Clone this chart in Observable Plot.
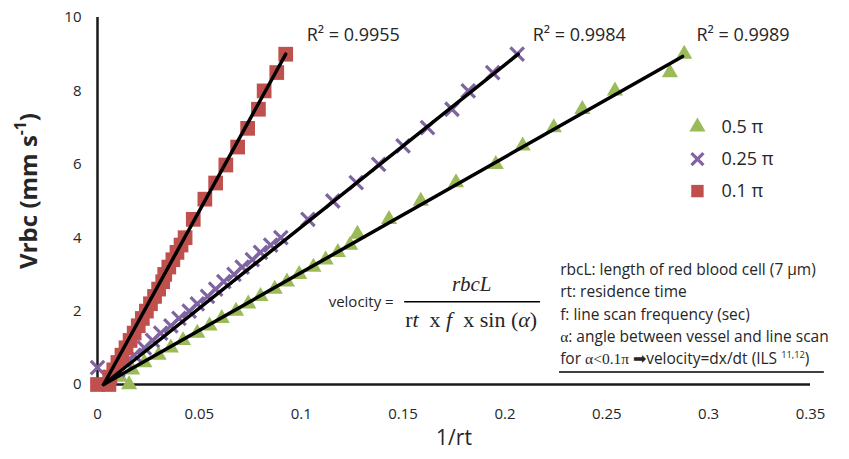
<!DOCTYPE html>
<html><head><meta charset="utf-8">
<script src="https://cdn.jsdelivr.net/npm/d3@7"></script>
<script src="https://cdn.jsdelivr.net/npm/@observablehq/plot@0.6"></script>
<style>body{margin:0;background:#fff} svg{display:block}</style>
</head><body><div id="chart"></div>
<script>
// ---- data ----
const seriesNames = ["0.5 π", "0.25 π", "0.1 π"];
const seriesColors = ["#9BBB59", "#8064A2", "#C0504D"];
const seriesSymbols = ["triangle", "times", "square"];
const r2Labels = ["R² = 0.9989", "R² = 0.9984", "R² = 0.9955"];

// 0.5 pi (green triangles)
const greenX = [0.0155,0.011,0.017,0.023,0.030,0.036,0.042,0.049,0.055,0.061,0.068,0.074,0.080,0.087,0.093,0.099,0.106,0.112,0.118,0.124,0.1276,0.1431,0.1587,0.176,0.1955,0.2087,0.224,0.238,0.254,0.281,0.288];
const greenY = [0.0,0.2,0.4,0.6,0.8,1.0,1.2,1.4,1.6,1.8,2.0,2.2,2.4,2.6,2.8,3.0,3.2,3.4,3.6,3.8,4.1,4.5,5.0,5.5,6.0,6.5,7.0,7.5,8.0,8.5,9.0];
// 0.25 pi (purple crosses)
const purpleX = [0.0,0.006,0.010,0.014,0.018,0.023,0.027,0.031,0.036,0.040,0.045,0.049,0.054,0.058,0.062,0.067,0.071,0.076,0.080,0.085,0.090,0.1033,0.1155,0.127,0.138,0.150,0.162,0.174,0.182,0.194,0.206];
const purpleY = [0.46,0.2,0.4,0.6,0.8,1.0,1.2,1.4,1.6,1.8,2.0,2.2,2.4,2.6,2.8,3.0,3.2,3.4,3.6,3.8,4.0,4.5,5.0,5.5,6.0,6.5,7.0,7.5,8.0,8.5,9.0];
// 0.1 pi (red squares)
const redX = [0.0,0.0056,0.006,0.008,0.010,0.012,0.014,0.016,0.018,0.020,0.022,0.024,0.026,0.028,0.030,0.032,0.033,0.035,0.037,0.039,0.041,0.043,0.047,0.0527,0.058,0.063,0.0688,0.0737,0.079,0.0818,0.088,0.0924];
const redY = [0.0,0.0,0.2,0.4,0.6,0.8,1.0,1.2,1.4,1.6,1.8,2.0,2.2,2.4,2.6,2.8,3.0,3.2,3.4,3.6,3.8,4.0,4.5,5.05,5.49,5.98,6.47,6.98,7.5,8.0,8.5,9.0];

// linear trendlines (start / end points)
const trendX1 = [0.003, 0.003, 0.003];
const trendY1 = [0, 0, 0];
const trendX2 = [0.2872, 0.2065, 0.0924];
const trendY2 = [8.94, 9.0, 9.0];

const xTicks = [0, 0.05, 0.1, 0.15, 0.2, 0.25, 0.3, 0.35];
const yTicks = [0, 2, 4, 6, 8, 10];

const notes = [
  "rbcL: length of red blood cell (7 μm)",
  "rt: residence time",
  "f: line scan frequency (sec)",
  "α: angle between vessel and line scan",
  "for α<0.1π ➡velocity=dx/dt (ILS 11,12)"
];

// ---- build tables ----
const xs = [greenX, purpleX, redX], ys = [greenY, purpleY, redY];
const seriesPts = seriesNames.map((s, i) => xs[i].map((x, j) => ({series: s, x, y: ys[i][j]})));
const trends = seriesNames.flatMap((s, i) => [
  {series: s, x: trendX1[i], y: trendY1[i]},
  {series: s, x: trendX2[i], y: trendY2[i]}
]);

const FONT = "'Open Sans', sans-serif";
const TXT = "#262626";

const legendY = [7.02, 6.14, 5.27];
const r2 = r2Labels.map((t, i) => ({t, x: [0.294, 0.2136, 0.1027][i], y: 9.51}));
const noteRows = notes.map((t, i) => ({t, y: [3.125, 2.527, 1.902, 1.304, 0.707][i]}));

const markStyle = [
  {symbol: "triangle", fill: seriesColors[0], stroke: "none", r: 6},
  {symbol: "times", fill: "none", stroke: seriesColors[1], strokeWidth: 3.2, r: 6.2},
  {symbol: "square", fill: seriesColors[2], stroke: "none", r: 8.3}
];
const legendStyle = [
  {symbol: "triangle", fill: seriesColors[0], stroke: "none", r: 6},
  {symbol: "times", fill: "none", stroke: seriesColors[1], strokeWidth: 3.2, r: 5.5},
  {symbol: "square", fill: seriesColors[2], stroke: "none", r: 7}
];

const plot = Plot.plot({
  width: 849,
  height: 459,
  marginLeft: 97,
  marginRight: 39,
  marginTop: 17,
  marginBottom: 75,
  style: {fontFamily: FONT, background: "#fff", overflow: "visible"},
  x: {domain: [0, 0.35], label: null},
  y: {domain: [0, 10], label: null},
  marks: [
    Plot.axisX({ticks: xTicks, tickFormat: d => String(+d.toFixed(2)), tickSize: 0, tickPadding: 24, fontSize: 15, fill: TXT, label: null}),
    Plot.axisY({ticks: yTicks, tickSize: 0, tickPadding: 16, fontSize: 15, fill: TXT, label: null}),
    Plot.ruleX([0], {y1: 0, y2: 10, stroke: "#1a1a1a", strokeWidth: 2.5}),
    Plot.ruleY([0], {x1: 0, x2: 0.35, stroke: "#1a1a1a", strokeWidth: 2.5}),
    // series: draw 0.5π first, 0.1π last
    ...seriesPts.map((pts, i) => Plot.dot(pts, {x: "x", y: "y", ...markStyle[i]})),
    Plot.line(trends, {x: "x", y: "y", z: "series", stroke: "#000", strokeWidth: 3.5}),
    // R² labels
    Plot.text(r2, {x: "x", y: "y", text: "t", textAnchor: "start", fontSize: 18, fill: TXT}),
    // legend
    ...seriesNames.map((s, i) => Plot.dot([s], {x: 0.2945, y: legendY[i], ...legendStyle[i]})),
    Plot.text(seriesNames, {x: 0.3063, y: (d, i) => legendY[i], text: d => d, textAnchor: "start", fontSize: 18, fill: TXT}),
    // formula
    Plot.text(["velocity ="], {x: 0.1454, y: 2.23, textAnchor: "end", fontSize: 15, fill: TXT}),
    Plot.text(["rbcL"], {x: 0.1837, y: 2.72, fontSize: 21, fontFamily: "'Liberation Serif', serif", fontStyle: "italic", fill: TXT}),
    Plot.ruleY([2.255], {x1: 0.1508, x2: 0.2175, stroke: "#000", strokeWidth: 1.6}),
    Plot.text(["DENOM"], {x: 0.1834, y: 1.77, fontSize: 22, fontFamily: "'Liberation Serif', serif", fill: TXT}),
    // notes
    Plot.text(noteRows, {x: 0.2271, y: "y", text: "t", textAnchor: "start", fontSize: 15.5, fill: TXT}),
    Plot.ruleY([0.34], {x1: 0.2268, x2: 0.3568, stroke: "#000", strokeWidth: 1.4}),
    // axis titles
    Plot.text(["1/rt"], {frameAnchor: "bottom", dy: 60, fontSize: 21, fill: TXT}),
    Plot.text(["YTITLE"], {frameAnchor: "left", textAnchor: "middle", dx: -68, dy: -10, rotate: -90, fontSize: 24, fontWeight: "bold", fill: TXT})
  ]
});

// ---- rich text post-processing ----
const svg = d3.select(plot);
function rich(content, parts) {
  svg.selectAll("text").filter(function() { return this.textContent === content; }).each(function() {
    const t = d3.select(this);
    t.text(null);
    parts.forEach(p => {
      const ts = t.append("tspan").text(p.t);
      if (p.italic) ts.attr("font-style", "italic");
      if (p.serif) ts.attr("font-family", "'Liberation Serif', serif");
      if (p.sup) ts.attr("baseline-shift", "super").attr("font-size", p.size || "60%");
    });
  });
}
rich("YTITLE", [{t: "Vrbc (mm s"}, {t: "-1", sup: true, size: "65%"}, {t: ")"}]);
rich("DENOM", [{t: "r"}, {t: "t", italic: true}, {t: "  x "}, {t: "f", italic: true}, {t: "  x sin ("}, {t: "α", italic: true}, {t: ")"}]);
rich(notes[3], [{t: "α", serif: true}, {t: ": angle between vessel and line scan"}]);
rich(notes[4], [{t: "for "}, {t: "α<0.1π", serif: true}, {t: " ➡velocity=dx/dt (ILS "}, {t: "11,12", sup: true}, {t: ")"}]);

document.getElementById("chart").append(plot);
</script>
</body></html>
